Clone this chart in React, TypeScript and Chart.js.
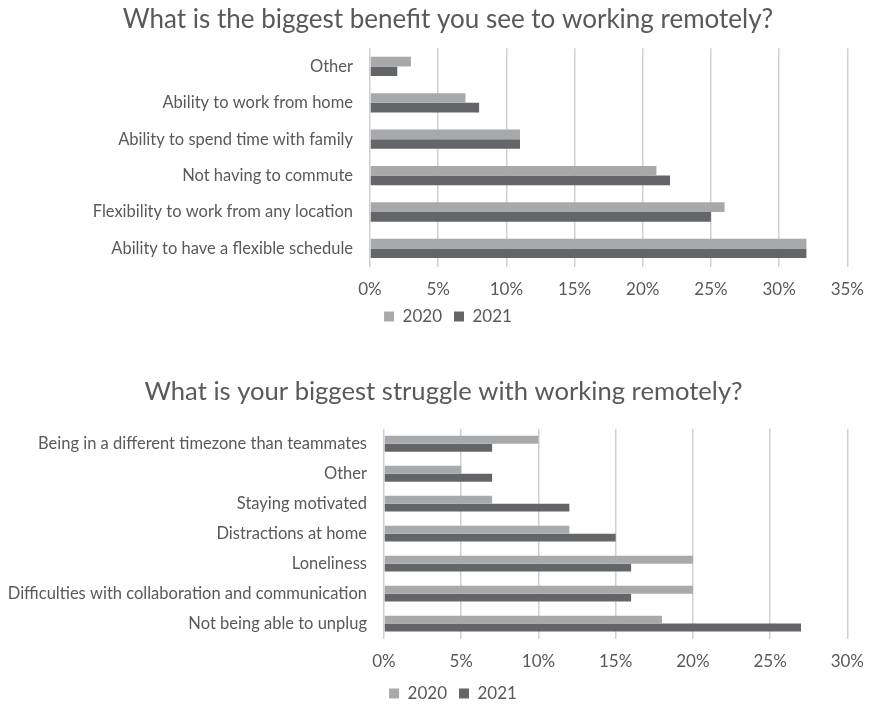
import React, { useEffect, useRef } from "react";
import { Chart, registerables } from "chart.js";

Chart.register(...registerables);

const benefitCategories = [
  "Other",
  "Ability to work from home",
  "Ability to spend time with family",
  "Not having to commute",
  "Flexibility to work from any location",
  "Ability to have a flexible schedule",
];
const benefit2020 = [3, 7, 11, 21, 26, 32];
const benefit2021 = [2, 8, 11, 22, 25, 32];

const struggleCategories = [
  "Being in a different timezone than teammates",
  "Other",
  "Staying motivated",
  "Distractions at home",
  "Loneliness",
  "Difficulties with collaboration and communication",
  "Not being able to unplug",
];
const struggle2020 = [10, 5, 7, 12, 20, 20, 18];
const struggle2021 = [7, 7, 12, 15, 16, 16, 27];

const seriesLabels = ["2020", "2021"];
const COLOR_2020 = "#a7a9ab";
const COLOR_2021 = "#636568";
const TEXT = "#595959";
const FONT = "Lato, 'Open Sans', sans-serif";

type Opts = {
  title: string;
  titleSize: number;
  labels: string[];
  a: number[];
  b: number[];
  max: number;
  leftPad: number;
  yWidth: number;
  rightPad: number;
  titleTop: number;
  titleBottom: number;
  legendUp: number;
  legendShiftX: number;
  titleShiftX: number;
};

function makeConfig(o: Opts): any {
  const nudge = {
    id: "nudge",
    afterLayout(chart: any) {
      if (chart.legend) {
        chart.legend.top -= o.legendUp;
        chart.legend.bottom -= o.legendUp;
        chart.legend.left += 2 * o.legendShiftX;
      }
      if (chart.titleBlock) {
        chart.titleBlock.left += 2 * o.titleShiftX;
      }
    },
  };
  return {
    type: "bar",
    data: {
      labels: o.labels,
      datasets: [
        { label: seriesLabels[0], data: o.a, backgroundColor: COLOR_2020, borderWidth: 0 },
        { label: seriesLabels[1], data: o.b, backgroundColor: COLOR_2021, borderWidth: 0 },
      ],
    },
    plugins: [nudge],
    options: {
      indexAxis: "y",
      responsive: false,
      animation: false,
      maintainAspectRatio: false,
      layout: { padding: { left: o.leftPad, right: o.rightPad, top: 0, bottom: 0 } },
      datasets: { bar: { categoryPercentage: 0.53, barPercentage: 1.0 } },
      plugins: {
        title: {
          display: true,
          text: o.title,
          color: TEXT,
          font: { family: FONT, size: o.titleSize, weight: "normal" },
          padding: { top: o.titleTop, bottom: o.titleBottom },
        },
        legend: {
          display: true,
          position: "bottom",
          labels: {
            boxWidth: 10,
            boxHeight: 10,
            color: TEXT,
            font: { family: FONT, size: 17 },
            padding: 12,
          },
        },
        tooltip: { enabled: false },
      },
      scales: {
        x: {
          min: 0,
          max: o.max,
          ticks: {
            stepSize: 5,
            color: TEXT,
            font: { family: FONT, size: 17 },
            padding: 13,
            callback: (v: any) => v + "%",
          },
          grid: { color: "#d0d0d0", lineWidth: 1.5, drawTicks: false },
          border: { display: false },
        },
        y: {
          ticks: {
            color: TEXT,
            font: { family: FONT, size: 16.5 },
            padding: 17,
          },
          grid: { display: false, drawTicks: false },
          border: { display: false },
          afterFit: (scale: any) => {
            scale.width = o.yWidth;
          },
        },
      },
    },
  };
}

function ChartBox(props: { top: number; height: number; config: any }) {
  const ref = useRef<HTMLCanvasElement>(null);
  useEffect(() => {
    if (!ref.current) return;
    const chart = new Chart(ref.current, props.config);
    return () => chart.destroy();
  }, []);
  return (
    <canvas
      ref={ref}
      width={877}
      height={props.height}
      style={{ position: "absolute", left: 0, top: props.top, width: 877, height: props.height }}
    />
  );
}

export default function App() {
  const topCfg = makeConfig({
    title: "What is the biggest benefit you see to working remotely?",
    titleSize: 26,
    labels: benefitCategories,
    a: benefit2020,
    b: benefit2021,
    max: 35,
    leftPad: 44,
    yWidth: 326,
    rightPad: 25,
    titleTop: 4,
    titleBottom: 13,
    legendUp: 17,
    legendShiftX: 0,
    titleShiftX: 0,
  });
  const botCfg = makeConfig({
    title: "What is your biggest struggle with working remotely?",
    titleSize: 25.6,
    labels: struggleCategories,
    a: struggle2020,
    b: struggle2021,
    max: 30,
    leftPad: 0,
    yWidth: 384,
    rightPad: 5,
    titleTop: 11,
    titleBottom: 22,
    legendUp: 12,
    legendShiftX: 17,
    titleShiftX: 7.5,
  });
  return (
    <div
      style={{
        position: "absolute",
        left: 0,
        top: 0,
        width: 877,
        height: 705,
        overflow: "hidden",
        background: "#fff",
      }}
    >
      <ChartBox top={0} height={352} config={topCfg} />
      <ChartBox top={365} height={359} config={botCfg} />
    </div>
  );
}
